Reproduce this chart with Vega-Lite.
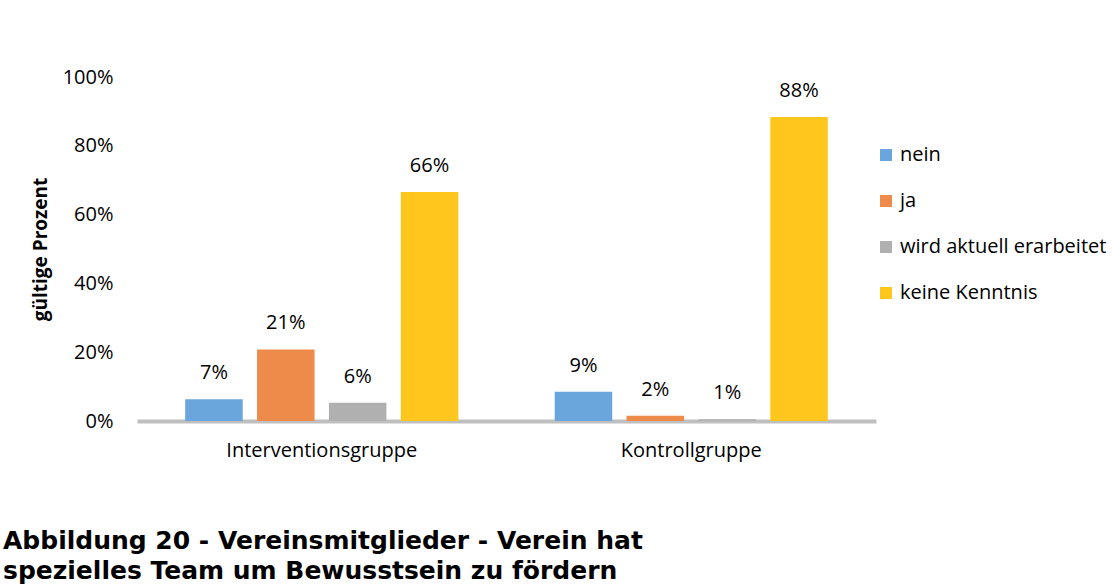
{
  "$schema": "https://vega.github.io/schema/vega-lite/v6.json",
  "width": 739,
  "height": 344,
  "autosize": {"type": "none"},
  "padding": {"left": 137, "top": 77, "right": 241, "bottom": 166},
  "background": "white",
  "title": {
    "text": ["Abbildung 20 - Vereinsmitglieder - Verein hat", "spezielles Team um Bewusstsein zu fördern"],
    "orient": "bottom",
    "anchor": "start",
    "frame": "group",
    "font": "DejaVu Sans",
    "fontSize": 25,
    "fontWeight": "bold",
    "color": "#000000",
    "lineHeight": 30,
    "dx": -134,
    "offset": 69
  },
  "data": {
    "values": [
      {"group": "Interventionsgruppe", "category": "nein", "value": 0.063, "label": "7%"},
      {"group": "Interventionsgruppe", "category": "ja", "value": 0.208, "label": "21%"},
      {"group": "Interventionsgruppe", "category": "wird aktuell erarbeitet", "value": 0.053, "label": "6%"},
      {"group": "Interventionsgruppe", "category": "keine Kenntnis", "value": 0.666, "label": "66%"},
      {"group": "Kontrollgruppe", "category": "nein", "value": 0.085, "label": "9%"},
      {"group": "Kontrollgruppe", "category": "ja", "value": 0.015, "label": "2%"},
      {"group": "Kontrollgruppe", "category": "wird aktuell erarbeitet", "value": 0.005, "label": "1%"},
      {"group": "Kontrollgruppe", "category": "keine Kenntnis", "value": 0.884, "label": "88%"}
    ]
  },
  "encoding": {
    "x": {
      "field": "group",
      "type": "nominal",
      "sort": ["Interventionsgruppe", "Kontrollgruppe"],
      "scale": {"paddingInner": 0.222, "paddingOuter": 0.111},
      "axis": {
        "title": null,
        "labelAngle": 0,
        "ticks": false,
        "labelPadding": 19,
        "labelLimit": 400,
        "domainColor": "#BFBFBF",
        "domainWidth": 4
      }
    },
    "xOffset": {
      "field": "category",
      "sort": ["nein", "ja", "wird aktuell erarbeitet", "keine Kenntnis"],
      "scale": {"paddingInner": 0.2, "paddingOuter": 0.1}
    },
    "y": {
      "field": "value",
      "type": "quantitative",
      "scale": {"domain": [0, 1]},
      "axis": {
        "title": "gültige Prozent",
        "format": ".0%",
        "values": [0, 0.2, 0.4, 0.6, 0.8, 1],
        "grid": false,
        "domain": false,
        "ticks": false,
        "labelPadding": 24,
        "titlePadding": 12,
        "titleFontWeight": "bold"
      }
    }
  },
  "layer": [
    {
      "mark": {"type": "bar"},
      "encoding": {
        "color": {
          "field": "category",
          "type": "nominal",
          "scale": {
            "domain": ["nein", "ja", "wird aktuell erarbeitet", "keine Kenntnis"],
            "range": ["#6AA5DB", "#EE8A4A", "#B0B0B0", "#FFC61E"]
          },
          "legend": {
            "title": null,
            "orient": "none",
            "legendX": 739,
            "legendY": 68,
            "symbolType": "square",
            "symbolSize": 144,
            "symbolStrokeWidth": 0,
            "labelOffset": 4,
            "labelLimit": 400,
            "rowPadding": 26
          }
        }
      }
    },
    {
      "mark": {"type": "text", "dy": -26, "baseline": "middle", "font": "Open Sans", "fontSize": 20, "color": "#000000"},
      "encoding": {
        "text": {"field": "label"}
      }
    }
  ],
  "config": {
    "view": {"stroke": null},
    "axis": {
      "labelFont": "Open Sans",
      "labelFontSize": 20,
      "labelColor": "#000000",
      "titleFont": "Open Sans",
      "titleFontSize": 19,
      "titleColor": "#000000"
    },
    "legend": {
      "labelFont": "Open Sans",
      "labelFontSize": 20,
      "labelColor": "#000000"
    }
  }
}
